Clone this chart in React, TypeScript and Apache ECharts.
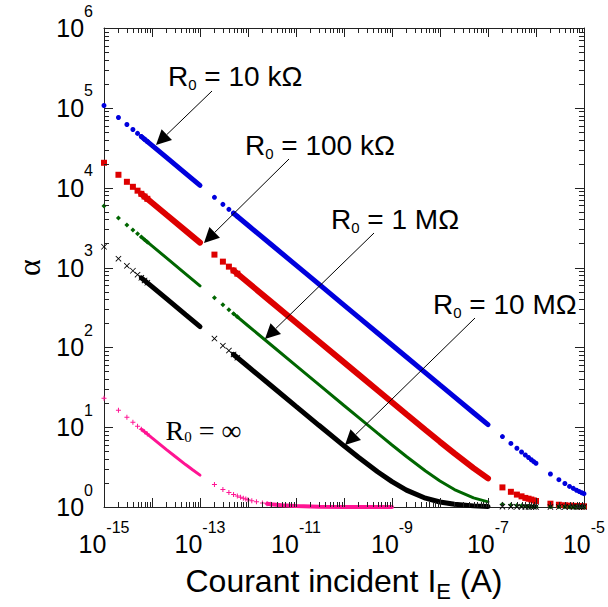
import React, { useEffect, useRef } from 'react';
import * as echarts from 'echarts';

// ---------- data ----------
// sampling of the incident current I_E (A)
const X_A_SPARSE = [1e-15, 2e-15, 3e-15, 4e-15, 5e-15, 6e-15, 7e-15, 8e-15];
const X_A_DENSE = [6e-15, 1e-14, 2e-14, 5e-14, 1e-13];
const X_B_SPARSE = [2e-13, 3e-13, 4e-13, 5e-13, 6e-13];
const X_B_DENSE = [5e-13, 1e-12, 3e-12, 1e-11, 3e-11, 1e-10, 2e-10, 5e-10, 1e-9, 2e-9, 5e-9, 1e-8, 2e-8, 5e-8, 1e-7];
const X_C = [2e-7, 3e-7, 4e-7, 5e-7, 6e-7, 7e-7, 8e-7, 9e-7, 1e-6];
const X_D = [2e-6, 3e-6, 4e-6, 5e-6, 6e-6, 7e-6, 8e-6, 9e-6, 1e-5];

// R0 = 10 kOhm (blue)
const BLUE_A_SPARSE = [107000, 75660, 61780, 53500, 47850, 43680, 40440, 37830];
const BLUE_A_DENSE = [43680, 33840, 23930, 15130, 10700];
const BLUE_B_SPARSE = [7566, 6178, 5350, 4785, 4368];
const BLUE_B_DENSE = [4785, 3384, 1954, 1070, 617.8, 338.4, 239.3, 151.3, 107.0, 75.7, 47.9, 33.85, 23.95, 15.17, 10.75];
const BLUE_C = [7.63, 6.26, 5.44, 4.89, 4.48, 4.17, 3.91, 3.7, 3.53];
const BLUE_D = [2.59, 2.2, 1.97, 1.81, 1.71, 1.62, 1.56, 1.51, 1.47];

// R0 = 100 kOhm (red)
const RED_A_SPARSE = [20500, 14500, 11840, 10250, 9170, 8370, 7750, 7250];
const RED_A_DENSE = [8370, 6480, 4580, 2900, 2050];
const RED_B_SPARSE = [1450, 1184, 1025, 917, 837];
const RED_B_DENSE = [916.5, 648.1, 374.2, 204.9, 118.3, 64.8, 45.84, 29.0, 20.52, 14.53, 9.22, 6.557, 4.69, 3.066, 2.28];
const RED_C = [1.76, 1.55, 1.43, 1.36, 1.3, 1.27, 1.24, 1.21, 1.19];
const RED_D = [1.1, 1.068, 1.051, 1.041, 1.034, 1.03, 1.026, 1.023, 1.021];

// R0 = 1 MOhm (green)
const GREEN_A_SPARSE = [5900, 4170, 3410, 2950, 2640, 2410, 2230, 2090];
const GREEN_A_DENSE = [2410, 1866, 1319, 834, 590];
const GREEN_B_SPARSE = [417, 341, 295, 264, 241];
const GREEN_B_DENSE = [263.8, 186.5, 107.7, 59.0, 34.07, 18.68, 13.23, 8.4, 5.98, 4.29, 2.82, 2.117, 1.655, 1.302, 1.161];
const GREEN_C = [1.083, 1.056, 1.042, 1.034, 1.028, 1.024, 1.021, 1.019, 1.017];
const GREEN_D = [1.0087, 1.0058, 1.0043, 1.0035, 1.0029, 1.0025, 1.0022, 1.0019, 1.0017];

// R0 = 10 MOhm (black)
const BLACK_A_SPARSE = [1820, 1290, 1050, 910, 814, 743, 688, 644];
const BLACK_A_DENSE = [743, 575.5, 407, 257, 182];
const BLACK_B_SPARSE = [128.7, 105, 91, 81.4, 74.3];
const BLACK_B_DENSE = [81.4, 57.5, 33.23, 18.22, 10.55, 5.84, 4.19, 2.76, 2.076, 1.629, 1.289, 1.154, 1.08, 1.033, 1.016];
const BLACK_C = [1.0083, 1.0055, 1.0041, 1.0033, 1.0028, 1.0024, 1.0021, 1.0018, 1.0017];
const BLACK_D = [1.0008, 1.0006, 1.0004, 1.0003, 1.0003, 1.0002, 1.0002, 1.0002, 1.0002];

// R0 = infinity (pink)
const PINK_A_SPARSE = [23.0, 16.3, 13.3, 11.5, 10.3, 9.44, 8.75, 8.19];
const PINK_A_DENSE_X = [6e-15, 1e-14, 2e-14, 3e-14, 5e-14, 7e-14, 1e-13];
const PINK_A_DENSE = [9.44, 7.34, 5.24, 4.32, 3.4, 2.93, 2.51];
const PINK_B_SPARSE_X = [2e-13, 3e-13, 4e-13, 5e-13, 6e-13, 7e-13, 8e-13, 9e-13, 1e-12, 1.2e-12, 1.5e-12, 2e-12, 2.5e-12, 3e-12];
const PINK_B_SPARSE = [1.909, 1.662, 1.524, 1.435, 1.372, 1.325, 1.289, 1.26, 1.237, 1.2, 1.163, 1.1245, 1.1007, 1.0846];
const PINK_B_DENSE_X = [2.5e-12, 3e-12, 5e-12, 1e-11, 3e-11, 1e-10, 1e-9];
const PINK_B_DENSE = [1.1007, 1.0846, 1.0516, 1.026, 1.0088, 1.0026, 1.0003];

// axis decades (exponents) and minor multipliers
const X_DECADES = [-15, -14, -13, -12, -11, -10, -9, -8, -7, -6, -5];
const Y_DECADES = [0, 1, 2, 3, 4, 5, 6];
const MINOR_MULTS = [2, 3, 4, 5, 6, 7, 8, 9];

const ANNOTATIONS = [
  { serif: false, value: '10 kΩ' },
  { serif: false, value: '100 kΩ' },
  { serif: false, value: '1 MΩ' },
  { serif: false, value: '10 MΩ' },
  { serif: true, value: '∞' },
];

// ---------- layout ----------
const SANS = 'Liberation Sans, Arial, Helvetica, sans-serif';
const SERIF = 'Liberation Serif, Times New Roman, serif';
const ANNOT_POS = [
  { x: 168, base: 86, arrow: [212, 91, 156, 145] },
  { x: 245, base: 155, arrow: [289, 159, 204, 243] },
  { x: 331, base: 229, arrow: [374, 233, 265, 339] },
  { x: 433, base: 314, arrow: [475, 318, 345, 445] },
  { x: 165.5, base: 440, arrow: null },
];

const zip = (xs: number[], ys: number[]) => xs.map((x, i) => [x, ys[i]]);

const PLUS = 'path://M4,0H6V4H10V6H6V10H4V6H0V4H4Z';
const CROSS = 'path://M1,0L5,4L9,0L10,1L6,5L10,9L9,10L5,6L1,10L0,9L4,5L0,1Z';

function band(xs: number[], ys: number[], color: string, width: number) {
  return {
    type: 'line',
    data: zip(xs, ys),
    symbol: 'none',
    clip: false,
    silent: true,
    lineStyle: { color, width, cap: 'round' },
    z: 3,
  };
}

function dots(data: number[][], symbol: string, size: number, color: string) {
  return {
    type: 'scatter',
    data,
    symbol,
    symbolSize: size,
    clip: false,
    silent: true,
    itemStyle: { color, opacity: 1 },
    z: 4,
  };
}

function arrow(x1: number, y1: number, x2: number, y2: number) {
  const dx = x2 - x1;
  const dy = y2 - y1;
  const L = Math.hypot(dx, dy);
  const ux = dx / L;
  const uy = dy / L;
  const hl = 15;
  const hw = 7.5;
  const bx = x2 - ux * hl;
  const by = y2 - uy * hl;
  return [
    { type: 'line', silent: true, shape: { x1, y1, x2: bx, y2: by }, style: { stroke: '#000', lineWidth: 1 }, z: 100 },
    {
      type: 'polygon',
      silent: true,
      shape: { points: [[x2, y2], [bx - uy * hw, by + ux * hw], [bx + uy * hw, by - ux * hw]] },
      style: { fill: '#000' },
      z: 100,
    },
  ];
}

export default function App() {
  const ref = useRef<HTMLDivElement>(null);

  useEffect(() => {
    if (!ref.current) return;
    const chart = echarts.init(ref.current, undefined, { renderer: 'svg' });

    const xTicks: number[][] = [];
    X_DECADES.forEach((e) => {
      xTicks.push([Math.pow(10, e), 10, 9]);
      if (e < X_DECADES[X_DECADES.length - 1]) MINOR_MULTS.forEach((m) => xTicks.push([m * Math.pow(10, e), 10, 5]));
    });
    const yTicks: number[][] = [];
    Y_DECADES.forEach((e) => {
      yTicks.push([1e-14, Math.pow(10, e), 9]);
      if (e < Y_DECADES[Y_DECADES.length - 1]) MINOR_MULTS.forEach((m) => yTicks.push([1e-14, m * Math.pow(10, e), 5]));
    });

    const tickStyle = { stroke: '#222', lineWidth: 1 };

    const labelRich = {
      b: { fontSize: 25, fontFamily: SANS, color: '#000', verticalAlign: 'middle' },
      e: { fontSize: 16, fontFamily: SANS, color: '#000', verticalAlign: 'middle', padding: [0, 0, 34, 0] },
    };

    const graphics: any[] = [];
    ANNOTATIONS.forEach((a, i) => {
      const p = ANNOT_POS[i];
      const fam = a.serif ? SERIF : SANS;
      const mainSize = 28;
      const subSize = 15;
      const central = a.serif ? 0.3375 : 0.3465;
      graphics.push({
        type: 'text',
        silent: true,
        x: p.x,
        y: p.base - central * mainSize,
        z: 100,
        style: {
          text: `{m|R}{s|0}{m| = ${a.value}}`,
          align: 'left',
          verticalAlign: 'middle',
          rich: {
            m: { fontSize: mainSize, fontFamily: fam, fill: '#000', verticalAlign: 'middle' },
            s: { fontSize: subSize, fontFamily: fam, fill: '#000', verticalAlign: 'middle', padding: [a.serif ? 13 : 16, 0, 0, 0] },
          },
        },
      });
      if (p.arrow) graphics.push(...arrow(p.arrow[0], p.arrow[1], p.arrow[2], p.arrow[3]));
    });

    const option: any = {
      animation: false,
      backgroundColor: '#fff',
      grid: { left: 104, right: 19, top: 28, bottom: 95 },
      xAxis: [
        {
          type: 'log',
          logBase: 10,
          min: 1e-15,
          max: 1e-5,
          interval: 1,
          splitNumber: 10,
          position: 'bottom',
          axisLine: { show: true, onZero: false, lineStyle: { color: '#222', width: 1 } },
          axisTick: { show: false },
          splitLine: { show: false },
          minorTick: { show: false },
          axisLabel: {
            margin: 12,
            formatter: (v: number) => {
              const e = Math.round(Math.log10(v));
              if (Math.abs(e) % 2 !== 1) return '';
              return `{b|10}{e|${e}}`;
            },
            rich: labelRich,
          },
          name: '{a|Courant incident I}{s|E}{a| (A)}',
          nameLocation: 'middle',
          nameGap: 53,
          nameTextStyle: {
            rich: {
              a: { fontSize: 32, fontFamily: SANS, color: '#000', verticalAlign: 'middle' },
              s: { fontSize: 22, fontFamily: SANS, color: '#000', verticalAlign: 'middle', padding: [20, 0, 0, 0] },
            },
          },
        },
        {
          type: 'log',
          logBase: 10,
          min: 1e-15,
          max: 1e-5,
          position: 'top',
          axisLine: { show: true, onZero: false, lineStyle: { color: '#222', width: 1 } },
          axisTick: { show: false },
          axisLabel: { show: false },
          splitLine: { show: false },
        },
      ],
      yAxis: [
        {
          type: 'log',
          logBase: 10,
          min: 1,
          max: 1e6,
          interval: 1,
          splitNumber: 6,
          position: 'left',
          axisLine: { show: true, onZero: false, lineStyle: { color: '#222', width: 1 } },
          axisTick: { show: false },
          splitLine: { show: false },
          axisLabel: {
            margin: 11,
            formatter: (v: number) => {
              const e = Math.round(Math.log10(v));
              return `{b|10}{e|${e}}`;
            },
            rich: labelRich,
          },
          name: 'α',
          nameLocation: 'middle',
          nameGap: 58,
          nameTextStyle: { fontSize: 32, fontFamily: SERIF, color: '#000' },
        },
        {
          type: 'log',
          logBase: 10,
          min: 1,
          max: 1e6,
          position: 'right',
          axisLine: { show: true, onZero: false, lineStyle: { color: '#222', width: 1 } },
          axisTick: { show: false },
          axisLabel: { show: false },
          splitLine: { show: false },
        },
      ],
      graphic: graphics,
      series: [
        // blue
        band(X_A_DENSE, BLUE_A_DENSE, '#0000dd', 5),
        band(X_B_DENSE, BLUE_B_DENSE, '#0000dd', 5),
        dots([...zip(X_A_SPARSE, BLUE_A_SPARSE), ...zip(X_B_SPARSE, BLUE_B_SPARSE), ...zip(X_C, BLUE_C), ...zip(X_D, BLUE_D)], 'circle', 5, '#0000dd'),
        // red
        band(X_A_DENSE, RED_A_DENSE, '#dd0000', 6),
        band(X_B_DENSE, RED_B_DENSE, '#dd0000', 6),
        dots([...zip(X_A_SPARSE, RED_A_SPARSE), ...zip(X_B_SPARSE, RED_B_SPARSE), ...zip(X_C, RED_C), ...zip(X_D, RED_D)], 'rect', 6, '#dd0000'),
        // green
        band(X_A_DENSE, GREEN_A_DENSE, '#006600', 3),
        band(X_B_DENSE, GREEN_B_DENSE, '#006600', 3),
        dots([...zip(X_A_SPARSE, GREEN_A_SPARSE), ...zip(X_B_SPARSE, GREEN_B_SPARSE), ...zip(X_C, GREEN_C), ...zip(X_D, GREEN_D)], 'diamond', 5, '#006600'),
        // black
        band(X_A_DENSE, BLACK_A_DENSE, '#000000', 5),
        band(X_B_DENSE, BLACK_B_DENSE, '#000000', 5),
        dots([...zip(X_A_SPARSE, BLACK_A_SPARSE), ...zip(X_B_SPARSE, BLACK_B_SPARSE), ...zip(X_C, BLACK_C), ...zip(X_D, BLACK_D)], CROSS, 6, '#000000'),
        // pink
        band(PINK_A_DENSE_X, PINK_A_DENSE, '#ff1493', 3),
        band(PINK_B_DENSE_X, PINK_B_DENSE, '#ff1493', 4),
        dots([...zip(X_A_SPARSE, PINK_A_SPARSE), ...zip(PINK_B_SPARSE_X, PINK_B_SPARSE)], PLUS, 5, '#ff1493'),
        // axis ticks (major and minor, mirrored on all four sides)
        {
          type: 'custom',
          silent: true,
          xAxisIndex: 0,
          yAxisIndex: 0,
          data: xTicks,
          z: 10,
          renderItem: (params: any, api: any) => {
            const cs = params.coordSys;
            const p = api.coord([api.value(0), api.value(1)]);
            const len = api.value(2);
            const x = Math.round(p[0]) + 0.5;
            return {
              type: 'group',
              children: [
                { type: 'line', shape: { x1: x, y1: cs.y + cs.height, x2: x, y2: cs.y + cs.height - len }, style: tickStyle },
                { type: 'line', shape: { x1: x, y1: cs.y, x2: x, y2: cs.y + len }, style: tickStyle },
              ],
            };
          },
        },
        {
          type: 'custom',
          silent: true,
          xAxisIndex: 0,
          yAxisIndex: 0,
          data: yTicks,
          z: 10,
          renderItem: (params: any, api: any) => {
            const cs = params.coordSys;
            const p = api.coord([api.value(0), api.value(1)]);
            const len = api.value(2);
            const y = Math.round(p[1]) + 0.5;
            return {
              type: 'group',
              children: [
                { type: 'line', shape: { x1: cs.x, y1: y, x2: cs.x + len, y2: y }, style: tickStyle },
                { type: 'line', shape: { x1: cs.x + cs.width, y1: y, x2: cs.x + cs.width - len, y2: y }, style: tickStyle },
              ],
            };
          },
        },
      ],
    };

    chart.setOption(option);
    return () => chart.dispose();
  }, []);

  return (
    <div
      ref={ref}
      style={{ position: 'absolute', left: 0, top: 0, width: 608, height: 607, background: '#fff' }}
    />
  );
}
